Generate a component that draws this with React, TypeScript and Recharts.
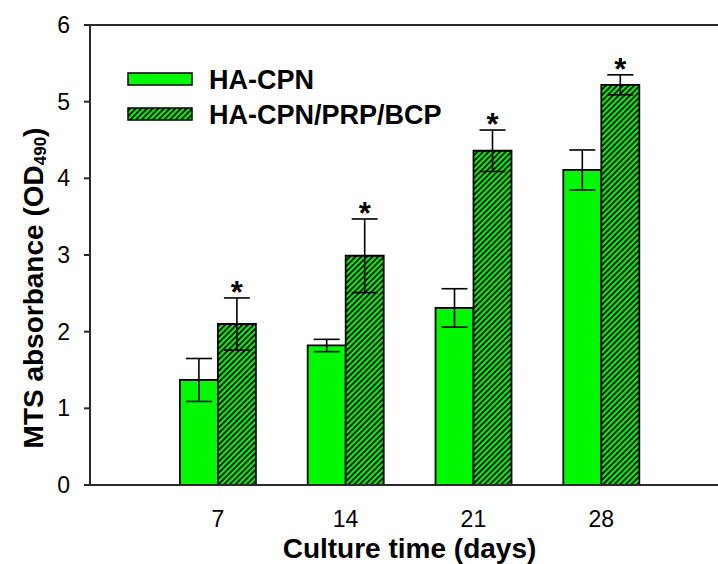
import {
  Bar,
  BarChart,
  ErrorBar,
  LabelList,
  Legend,
  ReferenceLine,
  XAxis,
  YAxis,
} from "recharts";

const days = [7, 14, 21, 28];
const haCpn = [1.37, 1.82, 2.31, 4.11];
const haCpnErr = [0.28, 0.08, 0.25, 0.26];
const haCpnPrp = [2.1, 2.99, 4.36, 5.22];
const haCpnPrpErr = [0.34, 0.48, 0.27, 0.13];

const yTicks = [0, 1, 2, 3, 4, 5, 6];

const data = days.map((d, i) => ({
  day: d,
  haCpn: haCpn[i],
  haCpnErr: haCpnErr[i],
  haCpnPrp: haCpnPrp[i],
  haCpnPrpErr: haCpnPrpErr[i],
}));

const GREEN = "#00f800";
const AXIS = "#2a2a2a";
const FONT = "'Liberation Sans', Arial, sans-serif";

// asterisk sits just above the top cap of the error bar
function Star(props: any) {
  const { x, y, width, height, index } = props;
  const v = haCpnPrp[index];
  const pxPerUnit = height / v;
  const top = y - haCpnPrpErr[index] * pxPerUnit;
  return (
    <text
      x={x + width / 2}
      y={top + 5}
      textAnchor="middle"
      fontFamily={FONT}
      fontWeight="bold"
      fontSize={31}
      fill="#000"
    >
      *
    </text>
  );
}

function LegendBox() {
  return (
    <svg width={340} height={64}>
      <rect x={1} y={8} width={64} height={12} fill={GREEN} stroke="#000" strokeWidth={1.5} />
      <text x={82} y={24} fontFamily={FONT} fontWeight="bold" fontSize={27} fill="#000">
        HA-CPN
      </text>
      <rect x={1} y={43} width={64} height={12} fill="url(#hatch)" stroke="#000" strokeWidth={1.5} />
      <text x={82} y={59} fontFamily={FONT} fontWeight="bold" fontSize={27} fill="#000">
        HA-CPN/PRP/BCP
      </text>
    </svg>
  );
}

function YTitle(props: any) {
  const { viewBox } = props;
  const cx = viewBox.x + 3;
  const cy = 288;
  return (
    <text
      transform={`translate(${cx},${cy}) rotate(-90)`}
      textAnchor="middle"
      dominantBaseline="central"
      fontFamily={FONT}
      fontWeight="bold"
      fontSize={28}
      fill="#000"
    >
      MTS absorbance (OD
      <tspan fontSize={17} dy={7}>490</tspan>
      <tspan dy={-7}>)</tspan>
    </text>
  );
}

export default function App() {
  return (
    <div
      style={{
        position: "absolute",
        left: 0,
        top: 0,
        width: 718,
        height: 564,
        overflow: "hidden",
        background: "#fff",
      }}
    >
      <BarChart
        width={760}
        height={564}
        data={data}
        barGap={0}
        margin={{ top: 25, right: 31, bottom: 29, left: 30 }}
      >
        <defs>
          <pattern
            id="hatch"
            patternUnits="userSpaceOnUse"
            width={4}
            height={4}
            patternTransform="rotate(45)"
          >
            <rect width={4} height={4} fill={GREEN} />
            <rect x={0} y={0} width={1.8} height={4} fill="#000" />
          </pattern>
        </defs>
        <XAxis
          dataKey="day"
          type="number"
          domain={[0, 35]}
          ticks={days}
          height={50}
          tickLine={false}
          tickSize={0}
          tickMargin={26}
          stroke={AXIS}
          strokeWidth={2}
          tick={{ fontSize: 23, fill: "#000", fontFamily: FONT }}
          label={{
            value: "Culture time (days)",
            position: "insideBottom",
            offset: -23,
            fontSize: 28,
            fontWeight: "bold",
            fill: "#000",
            fontFamily: FONT,
          }}
        />
        <YAxis
          domain={[0, 6]}
          ticks={yTicks}
          width={60}
          tickSize={6}
          tickMargin={14}
          stroke={AXIS}
          strokeWidth={2}
          tick={{ fontSize: 23, fill: "#000", fontFamily: FONT }}
          label={<YTitle />}
        />
        <ReferenceLine y={6} stroke={AXIS} strokeWidth={2} />
        <Legend
          layout="horizontal"
          verticalAlign="middle"
          align="center"
          content={() => <LegendBox />}
          wrapperStyle={{ left: 127, top: 65, width: 340, height: 64 }}
        />
        <Bar
          dataKey="haCpn"
          name="HA-CPN"
          barSize={38}
          fill={GREEN}
          stroke="#000"
          strokeWidth={1.8}
          isAnimationActive={false}
        >
          <ErrorBar dataKey="haCpnErr" width={13} stroke="#000" strokeWidth={1.6} />
        </Bar>
        <Bar
          dataKey="haCpnPrp"
          name="HA-CPN/PRP/BCP"
          barSize={38}
          fill="url(#hatch)"
          stroke="#000"
          strokeWidth={1.8}
          isAnimationActive={false}
        >
          <ErrorBar dataKey="haCpnPrpErr" width={13} stroke="#000" strokeWidth={1.6} />
          <LabelList dataKey="haCpnPrp" content={<Star />} />
        </Bar>
      </BarChart>
    </div>
  );
}
